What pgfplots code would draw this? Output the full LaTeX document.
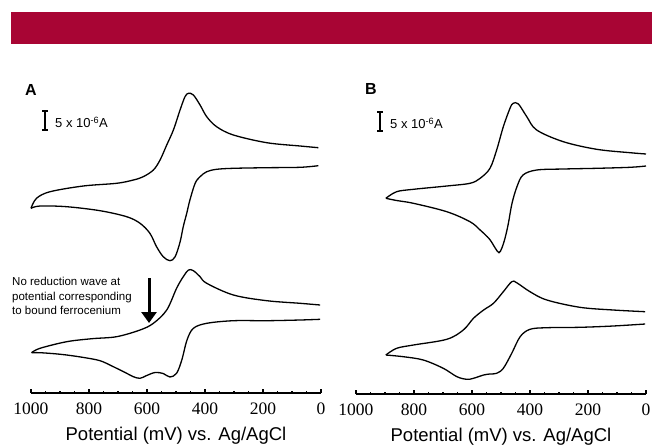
\documentclass[border=0pt]{standalone}
\usepackage{fontspec}
\setmainfont{Liberation Sans}
\newfontfamily\timesfont{Liberation Serif}
\usepackage{pgfplots}
\pgfplotsset{compat=1.18}
\usetikzlibrary{arrows.meta}
\definecolor{banner}{RGB}{168,5,52}

\pgfplotsset{
  cvpanel/.style={
    scale only axis, width=290pt,
    xmin=0, xmax=1000, ymin=0, x dir=reverse,
    axis x line=bottom, axis y line=none,
    x axis line style={-, line width=1.3pt},
    xtick={0,200,...,1000}, minor x tick num=3,
    tick align=inside, major tick length=4.5pt, minor tick length=2.5pt,
    every tick/.style={black, line width=1.1pt},
    xticklabel style={font=\timesfont\fontsize{17.5}{17.5}\selectfont, yshift=-6pt},
    /pgf/number format/assume math mode=true,
    /pgf/number format/1000 sep={},
    xlabel={Potential (mV) vs. Ag/AgCl},
    xlabel style={font=\fontsize{18.5}{18.5}\selectfont,
      at={(axis description cs:0.5,-0.136)}, anchor=center},
    clip=false,
  },
  cv/.style={black, line width=1.3pt, smooth, tension=0.55, no markers},
}

\begin{document}
\begin{tikzpicture}
\useasboundingbox (0,0) rectangle (653pt,-445pt);
\fill[banner] (11pt,-12pt) rectangle (652pt,-44pt);

% ---- panel A ----
\begin{axis}[cvpanel, at={(31pt,-393pt)}, anchor=south west, height=313pt, ymax=313]
% upper CV, forward and reverse branch
\addplot[cv] coordinates {(1000,184.7) (981,194.7) (934,201.3) (820,207) (705,209.7) (647,213)
  (613,216.3) (578,223) (555,233) (532,248) (509,263) (486,283) (469,296.3) (457,299.7)
  (440,298) (417,288) (394,276.3) (360,266.3) (302,258) (187,250.3) (72,247) (9,245.3)};
\addplot[cv] coordinates {(1000,184.7) (969,187) (877,186.3) (762,182.3) (670,176.3) (624,169.7)
  (590,159.7) (567,146.3) (544,136.3) (521,132.3) (503,136.3) (486,151) (475,166.3)
  (463,179.7) (452,193) (434,209.7) (417,216.3) (394,221.3) (360,223.7) (302,224.7)
  (187,225.3) (72,225.7) (9,227.3)};
% lower CV
\addplot[cv] coordinates {(998,40.3) (969,44.7) (877,51.3) (790,54.3) (705,56.3) (624,63) (578,69.7)
  (532,83) (498,104.7) (475,116.3) (457,123) (440,122.3) (417,116.3) (394,109.7) (302,98)
  (187,92.3) (72,89.7) (3,88)};
\addplot[cv] coordinates {(998,40.3) (969,40.3) (920,39.3) (877,38) (820,35.6) (762,32.3) (716,26.3) (670,19.7)
  (647,16.3) (624,14.7) (601,17.5) (572,20.5) (544,19.5) (521,16) (498,19.7) (480,33)
  (462,53) (440,64.7) (394,69.7) (302,72.3) (187,72.3) (72,73) (3,73.7)};
\draw[line width=3pt, -{Triangle[length=11pt,width=15pt]}] (axis cs:593,115) -- (axis cs:593,70);
\end{axis}

% ---- panel B ----
\begin{axis}[cvpanel, at={(356pt,-394pt)}, anchor=south west, height=314pt, ymax=314]
\addplot[cv] coordinates {(897,195.7) (860,202.3) (802,204.7) (687,208) (607,210.7) (572,215.7)
  (538,225.7) (515,244) (492,267.3) (469,285.7) (458,290.7) (440,290) (411,277.3)
  (377,264) (285,252.3) (170,244.7) (55,241.3) (0,240)};
\addplot[cv] coordinates {(897,195.7) (860,193.5) (802,190.7) (687,182.3) (607,172.3) (572,164)
  (540,155) (520,146) (507,141.3) (497,146) (486,156) (475,170) (462,190.7) (445,207.3)
  (424,219) (377,224) (285,225) (170,225.7) (55,226.7) (0,228)};
\addplot[cv] coordinates {(897,39) (860,45.7) (802,49) (687,54.7) (630,64) (595,75.7) (560,84)
  (526,90.7) (492,102.3) (463,112.3) (446,111.3) (400,102.3) (342,94) (228,86.7)
  (113,84) (3,82.3)};
\addplot[cv] coordinates {(897,39) (837,37.3) (768,34) (699,25.7) (652,17.3) (618,14.7)
  (595,15.7) (560,19) (538,20) (515,20.7) (492,25.7) (463,40.7) (434,57.3) (400,64.7)
  (342,66.3) (228,66.7) (113,68) (3,70)};
\end{axis}

% panel letters
\node[font=\bfseries\fontsize{16}{16}\selectfont] at (31pt,-89.5pt) {A};
\node[font=\bfseries\fontsize{16}{16}\selectfont] at (371pt,-88.5pt) {B};

% current scale bars
\draw[line width=1.1pt] (45pt,-111pt) -- (45pt,-130pt) (42pt,-111pt) -- (48pt,-111pt) (42pt,-130pt) -- (48pt,-130pt);
\node[anchor=west, inner sep=0, font=\fontsize{13}{13}\selectfont] at (55pt,-122.5pt) {5 x 10\textsuperscript{-6}A};
\draw[line width=1.1pt] (380pt,-112pt) -- (380pt,-131pt) (377pt,-112pt) -- (383pt,-112pt) (377pt,-131pt) -- (383pt,-131pt);
\node[anchor=west, inner sep=0, font=\fontsize{13}{13}\selectfont] at (390pt,-123.5pt) {5 x 10\textsuperscript{-6}A};

\node[anchor=north west, align=left, inner sep=0, font=\fontsize{11.5}{14.5}\selectfont] at (12pt,-277pt)
  {No reduction wave at\\potential corresponding\\to bound ferrocenium};
\end{tikzpicture}
\end{document}
